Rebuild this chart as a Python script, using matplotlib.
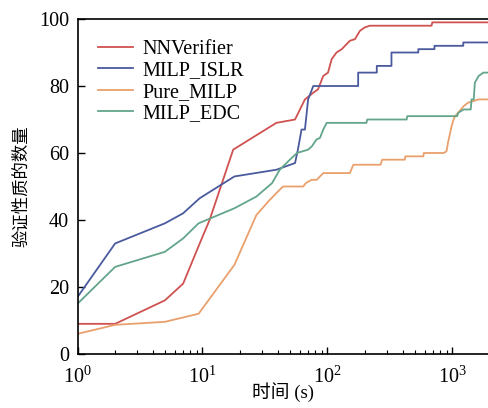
"""
Number of verified properties vs. time for four verifiers (log x axis)
"""

from matplotlib import pyplot as plt

plt.rcParams['font.family'] = ['Liberation Serif', 'Noto Sans CJK SC']
plt.rcParams['mathtext.fontset'] = 'stix'

# NNVerifier
nn_t = [1, 2, 5, 7, 9.5, 11.4, 17.6, 39, 55, 66, 77, 84, 92.5, 101, 108, 118,
        130, 151, 166, 182, 199, 218, 680, 690, 1960]
nn_n = [9, 9, 16, 21, 33, 40, 61, 69, 70, 76, 78, 79, 83, 84, 88, 90,
        91, 93.5, 94, 96.5, 97.5, 98, 98, 99, 99]

# MILP_ISLR
islr_t = [1, 2, 5, 7, 9.5, 18, 39, 55, 58, 62, 66, 70, 77, 84, 176, 176,
          248, 248, 325, 325, 533, 533, 718, 718, 1220, 1220, 1960]
islr_n = [17, 33, 39, 42, 46.5, 53, 55, 57, 61, 67, 67, 76, 80, 80, 80, 84,
          84, 86, 86, 90, 90, 91, 91, 92, 92, 93, 93]

# Pure_MILP
pure_t = [1, 2, 5, 9.3, 18, 27, 34.5, 44, 64, 67, 74.5, 82, 92.5, 151, 161,
          266, 274, 415, 420, 585, 590, 850, 896, 920, 984, 1020, 1050, 1110,
          1230, 1330, 1620, 1960]
pure_n = [6, 8.7, 9.6, 12, 26.6, 41.5, 46, 50, 50, 51, 52, 52, 54, 54, 56.5,
          56.5, 58, 58, 59, 59, 60, 60, 60.5, 63, 68, 70, 71, 72,
          74, 75, 76, 76]

# MILP_EDC
edc_t = [1, 2, 5, 7, 9.3, 18, 27, 36, 41.5, 50, 57, 70, 75, 81.5, 87, 92.5,
         98.5, 205, 208, 430, 435, 1090, 1110, 1230, 1400, 1420, 1480, 1510,
         1620, 1770, 1960]
edc_n = [15, 26, 30.5, 34.5, 39, 43.5, 47, 51, 55, 58, 60, 61, 62, 64, 64.5,
         67, 69, 69, 70, 70, 71, 71, 72, 73, 73, 76, 76, 81,
         83, 84, 84]

fig = plt.figure(figsize=(4.89, 4.08), dpi=100)
ax = fig.add_axes([0.1585, 0.1324, 0.8415, 0.821])

lw = 1.3
ax.plot(nn_t, nn_n, c='#cf5250', linewidth=lw, label='NNVerifier')
ax.plot(islr_t, islr_n, c='#4a5a9e', linewidth=lw, label='MILP_ISLR')
ax.plot(pure_t, pure_n, c='#e9a06c', linewidth=lw, label='Pure_MILP')
ax.plot(edc_t, edc_n, c='#62a58a', linewidth=lw, label='MILP_EDC')

ax.set_xscale('log')
ax.set_xlim(1, 1960)
ax.set_ylim(0, 100)
ax.set_yticks([0, 20, 40, 60, 80, 100])
ax.spines['right'].set_visible(False)
for s in ['left', 'bottom', 'top']:
    ax.spines[s].set_linewidth(1.2)

ax.tick_params(axis='both', which='major', direction='in', labelsize=14.5,
               length=5, width=1)
ax.tick_params(axis='y', which='major', pad=6)
ax.tick_params(axis='x', which='major', pad=9)
ax.tick_params(axis='x', which='minor', direction='in', length=3, width=0.8)
ax.tick_params(axis='x', which='both', top=False)

ax.set_xlabel('时间 (s)', fontsize=13.5, labelpad=-4)
ax.set_ylabel('验证性质的数量', fontsize=12.5, labelpad=6)

ax.legend(loc='upper left', frameon=False, fontsize=14.5, handlelength=1.75,
          labelspacing=0.12, borderaxespad=0.2, handletextpad=0.45,
          bbox_to_anchor=(0.02, 0.975))

fig.savefig('out.png', dpi=100)
